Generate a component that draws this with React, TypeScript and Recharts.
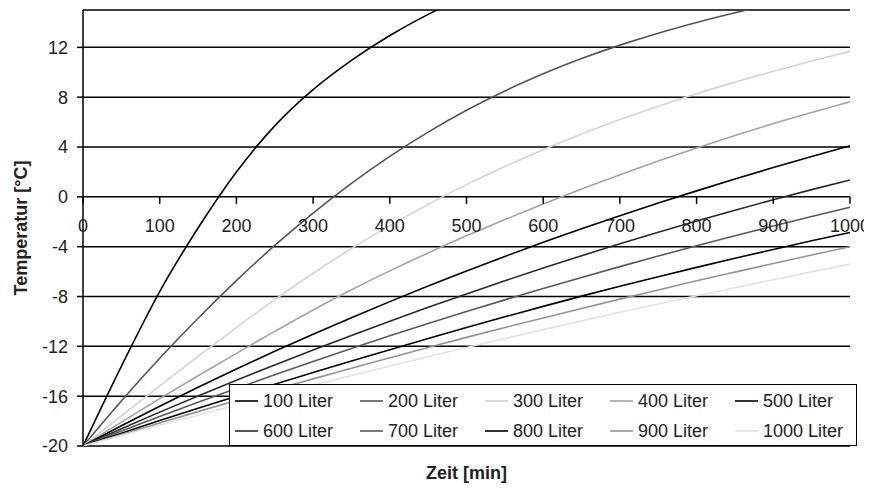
import React from 'react';
import { LineChart, Line, XAxis, YAxis, CartesianGrid, Legend, Label } from 'recharts';

const times = [0, 50, 100, 150, 200, 250, 300, 350, 400, 450, 500, 550, 600, 650, 700, 750, 800, 850, 900, 950, 1000];

const l100 = [-20, -13.6, -7.6, -2.5, 2.0, 5.7, 8.6, 10.95, 12.95, 14.65, 16.1, null, null, null, null, null, null, null, null, null, null];
const l200 = [-20, -16.38, -12.96, -9.74, -6.72, -3.9, -1.3, 1.08, 3.25, 5.2, 6.95, 8.5, 9.88, 11.1, 12.18, 13.14, 14.0, 14.78, 15.5, null, null];
const l300 = [-20, -17.58, -15.18, -12.81, -10.49, -8.25, -6.13, -4.15, -2.31, -0.6, 0.98, 2.44, 3.79, 5.04, 6.2, 7.28, 8.28, 9.21, 10.08, 10.9, 11.68];
const l400 = [-20, -18.08, -16.2, -14.36, -12.56, -10.8, -9.08, -7.46, -5.94, -4.5, -3.13, -1.82, -0.57, 0.63, 1.78, 2.88, 3.93, 4.93, 5.88, 6.78, 7.64];
const l500 = [-20, -18.38, -16.81, -15.29, -13.82, -12.4, -11.03, -9.7, -8.41, -7.16, -5.95, -4.78, -3.65, -2.56, -1.51, -0.5, 0.48, 1.43, 2.35, 3.24, 4.1];
const l600 = [-20, -18.62, -17.28, -15.98, -14.72, -13.49, -12.29, -11.12, -9.98, -8.87, -7.79, -6.74, -5.72, -4.73, -3.77, -2.84, -1.94, -1.07, -0.23, 0.58, 1.36];
const l700 = [-20, -18.8, -17.63, -16.49, -15.38, -14.29, -13.22, -12.17, -11.15, -10.16, -9.2, -8.27, -7.36, -6.47, -5.6, -4.75, -3.92, -3.12, -2.34, -1.58, -0.84];
const l800 = [-20, -18.97, -17.96, -16.97, -16.0, -15.04, -14.1, -13.18, -12.27, -11.37, -10.49, -9.63, -8.79, -7.97, -7.18, -6.41, -5.66, -4.93, -4.22, -3.53, -2.86];
const l900 = [-20, -19.07, -18.15, -17.24, -16.35, -15.47, -14.61, -13.76, -12.92, -12.09, -11.28, -10.49, -9.72, -8.96, -8.21, -7.47, -6.74, -6.04, -5.35, -4.67, -4.0];
const l1000 = [-20, -19.16, -18.33, -17.51, -16.7, -15.9, -15.11, -14.34, -13.58, -12.83, -12.09, -11.37, -10.66, -9.96, -9.27, -8.6, -7.94, -7.29, -6.65, -6.02, -5.4];

const seriesNames = ['100 Liter', '200 Liter', '300 Liter', '400 Liter', '500 Liter', '600 Liter', '700 Liter', '800 Liter', '900 Liter', '1000 Liter'];
const seriesValues = [l100, l200, l300, l400, l500, l600, l700, l800, l900, l1000];
const seriesColors = ['#000000', '#555555', '#d4d4d4', '#a3a3a3', '#000000', '#2a2a2a', '#5a5a5a', '#000000', '#939393', '#e2e2e2'];

const xTicks = [0, 100, 200, 300, 400, 500, 600, 700, 800, 900, 1000];
const yTicks = [-20, -16, -12, -8, -4, 0, 4, 8, 12];
const Y_MIN = -20;
const Y_MAX = 15;

const data = times.map((t, i) => {
  const row: Record<string, number | null> = { t };
  seriesNames.forEach((n, k) => {
    row[n] = seriesValues[k][i];
  });
  return row;
});

const W = 864;
const H = 482;
const M_TOP = 2;
const M_RIGHT = 22;
const Y_W = 75;
const X_H = 44;
const PLOT_H = H - M_TOP - X_H;
const ZERO_Y = M_TOP + (PLOT_H * (Y_MAX - 0)) / (Y_MAX - Y_MIN);
const FONT = '"Liberation Sans", Arial, sans-serif';
const TXT = '#222';

const XTick = (props: any) => {
  const { x, payload } = props;
  return (
    <g>
      <line x1={x} x2={x} y1={ZERO_Y} y2={ZERO_Y + 7} stroke="#000" strokeWidth={1.5} />
      <text x={x} y={ZERO_Y + 35} textAnchor="middle" fontSize={18} fill={TXT} fontFamily={FONT}>
        {payload.value}
      </text>
    </g>
  );
};

const YLabel = (props: any) => {
  const vb = props.viewBox || {};
  const cy = (vb.y ?? M_TOP) + (vb.height ?? PLOT_H) / 2;
  const cx = 13;
  return (
    <text
      x={cx}
      y={cy}
      transform={`rotate(-90, ${cx}, ${cy})`}
      textAnchor="middle"
      dominantBaseline="central"
      fontSize={18}
      fontWeight="bold"
      fill={TXT}
      fontFamily={FONT}
    >
      Temperatur [°C]
    </text>
  );
};

const XLabel = (props: any) => {
  const vb = props.viewBox || {};
  const cx = (vb.x ?? Y_W) + (vb.width ?? 767) / 2;
  return (
    <text x={cx} y={471} textAnchor="middle" fontSize={18} fontWeight="bold" fill={TXT} fontFamily={FONT}>
      Zeit [min]
    </text>
  );
};

const LegendBox = (props: any) => {
  const payload = [...(props.payload || [])].sort(
    (a: any, b: any) => seriesNames.indexOf(a.value) - seriesNames.indexOf(b.value)
  );
  return (
    <div
      style={{
        width: 628,
        height: 62,
        boxSizing: 'border-box',
        border: '1.5px solid #000',
        background: '#fff',
        display: 'grid',
        gridTemplateColumns: 'repeat(5, 125px)',
        gridTemplateRows: '30px 30px',
        paddingLeft: 5,
        paddingTop: 1,
        fontFamily: FONT,
        fontSize: 18,
        color: TXT,
      }}
    >
      {payload.map((p: any) => (
        <div key={p.value} style={{ display: 'flex', alignItems: 'center', whiteSpace: 'nowrap' }}>
          <svg width={23} height={4} style={{ marginRight: 5 }}>
            <line x1={0} x2={23} y1={2} y2={2} stroke={p.color} strokeWidth={1.6} />
          </svg>
          <span>{p.value}</span>
        </div>
      ))}
    </div>
  );
};

export default function App() {
  return (
    <div style={{ width: W, height: H, background: '#fff' }}>
      <LineChart
        width={W}
        height={H}
        data={data}
        margin={{ top: M_TOP, right: M_RIGHT, bottom: 0, left: 0 }}
        style={{ fontFamily: FONT }}
      >
        <CartesianGrid horizontal={true} vertical={false} stroke="#000" strokeWidth={1.5} strokeOpacity={1} />
        <XAxis
          dataKey="t"
          type="number"
          domain={[0, 1000]}
          ticks={xTicks}
          height={X_H}
          axisLine={false}
          tickLine={false}
          tick={<XTick />}
          interval={0}
        >
          <Label content={<XLabel />} />
        </XAxis>
        <YAxis
          type="number"
          domain={[Y_MIN, Y_MAX]}
          ticks={yTicks}
          allowDataOverflow={true}
          width={Y_W}
          axisLine={{ stroke: '#000', strokeWidth: 1.5 }}
          tickLine={{ stroke: '#000', strokeWidth: 1.5 }}
          tickSize={6}
          tickMargin={9}
          tick={{ fontSize: 18, fill: TXT, fontFamily: FONT }}
          interval={0}
        >
          <Label content={<YLabel />} />
        </YAxis>
        <Legend
          layout="vertical"
          align="center"
          verticalAlign="middle"
          content={<LegendBox />}
          wrapperStyle={{ left: 221, top: 376, width: 628, height: 62 }}
        />
        {seriesNames.map((n, k) => (
          <Line
            key={n}
            type="monotone"
            dataKey={n}
            name={n}
            stroke={seriesColors[k]}
            strokeWidth={1.6}
            dot={false}
            activeDot={false}
            connectNulls={false}
            isAnimationActive={false}
          />
        ))}
      </LineChart>
    </div>
  );
}
